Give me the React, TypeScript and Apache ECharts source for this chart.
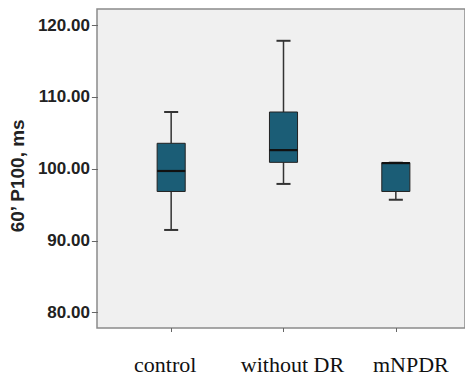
import React, { useEffect, useRef } from "react";
import * as echarts from "echarts";

const categories = ["control", "without DR", "mNPDR"];
// [low whisker, Q1, median, Q3, high whisker]
const boxValues = [
  [91.5, 96.85, 99.7, 103.55, 107.9],
  [97.9, 100.9, 102.6, 107.9, 117.8],
  [95.7, 96.85, 100.8, 100.85, 100.85],
];
const yTicks = [80, 90, 100, 110, 120];

export default function App() {
  const ref = useRef<HTMLDivElement>(null);
  useEffect(() => {
    if (!ref.current) return;
    const chart = echarts.init(ref.current, undefined, { renderer: "svg" });
    const data = boxValues.map((v, i) => [i, ...v]);
    const labelStyle = { fontFamily: "Liberation Serif", fontSize: 22, color: "#111" };
    chart.setOption({
      animation: false,
      backgroundColor: "#ffffff",
      grid: [
        { left: 97, top: 9, right: -3, bottom: 48, show: true, backgroundColor: "#f0f0f0", borderColor: "#8a8a8a", borderWidth: 1.5 },
        { left: 97, top: 25, right: 0, bottom: 63.3 },
        { left: 115, top: 9, width: 337, bottom: 48 },
      ],
      xAxis: [
        { type: "value", gridIndex: 0, show: false },
        { type: "value", gridIndex: 1, show: false },
        {
          type: "category",
          gridIndex: 2,
          data: categories,
          axisLine: { show: false },
          axisTick: { show: true, alignWithLabel: true, length: 4, lineStyle: { color: "#666" } },
          axisLabel: {
            interval: 0,
            hideOverlap: false,
            margin: 25,
            ...labelStyle,
            formatter: (v: string, i: number) => ["{a|", "{b|", "{c|"][i] + v + "}",
            rich: {
              a: { ...labelStyle, padding: [0, 12, 0, 0] },
              b: { ...labelStyle, padding: [0, 0, 0, 18] },
              c: { ...labelStyle, padding: [0, 0, 0, 30] },
            },
          },
        },
      ],
      yAxis: [
        { type: "value", gridIndex: 0, show: false },
        {
          type: "value",
          gridIndex: 1,
          min: yTicks[0],
          max: yTicks[yTicks.length - 1],
          interval: 10,
          name: "60’ P100, ms",
          nameLocation: "middle",
          nameGap: 70,
          nameTextStyle: { fontFamily: "Liberation Sans", fontWeight: "bold", fontSize: 19, color: "#222", padding: [0, 14, 0, 0] },
          axisLine: { show: false },
          axisTick: { show: true, length: 6, lineStyle: { color: "#666" } },
          splitLine: { show: false },
          axisLabel: {
            fontFamily: "Liberation Sans",
            fontWeight: "bold",
            fontSize: 17,
            color: "#222",
            margin: 8,
            formatter: (v: number) => v.toFixed(2),
          },
        },
        { type: "value", gridIndex: 2, min: 77.87, max: 122.22, show: false },
      ],
      series: [
        {
          type: "custom",
          xAxisIndex: 2,
          yAxisIndex: 2,
          data,
          encode: { x: 0, y: [1, 2, 3, 4, 5] },
          renderItem: (params: any, api: any) => {
            const x = api.value(0);
            const low = api.coord([x, api.value(1)]);
            const q1 = api.coord([x, api.value(2)]);
            const med = api.coord([x, api.value(3)]);
            const q3 = api.coord([x, api.value(4)]);
            const high = api.coord([x, api.value(5)]);
            const band = api.size([1, 0])[0];
            const bw = band * 0.25;
            const cw = band * 0.125;
            const cx = low[0];
            const lineStyle = { stroke: "#333", lineWidth: 1.5 };
            return {
              type: "group",
              children: [
                { type: "line", shape: { x1: cx, y1: high[1], x2: cx, y2: q3[1] }, style: lineStyle },
                { type: "line", shape: { x1: cx, y1: q1[1], x2: cx, y2: low[1] }, style: lineStyle },
                { type: "line", shape: { x1: cx - cw / 2, y1: high[1], x2: cx + cw / 2, y2: high[1] }, style: { stroke: "#333", lineWidth: 2 } },
                { type: "line", shape: { x1: cx - cw / 2, y1: low[1], x2: cx + cw / 2, y2: low[1] }, style: { stroke: "#333", lineWidth: 2 } },
                {
                  type: "rect",
                  shape: { x: cx - bw / 2, y: q3[1], width: bw, height: q1[1] - q3[1] },
                  style: { fill: "#1b5d76", stroke: "#222", lineWidth: 1 },
                },
                { type: "line", shape: { x1: cx - bw / 2, y1: med[1], x2: cx + bw / 2, y2: med[1] }, style: { stroke: "#111", lineWidth: 2.2 } },
              ],
            };
          },
        },
      ],
    });
    return () => chart.dispose();
  }, []);
  return <div ref={ref} style={{ width: 465, height: 376, position: "absolute", left: 0, top: 0 }} />;
}
